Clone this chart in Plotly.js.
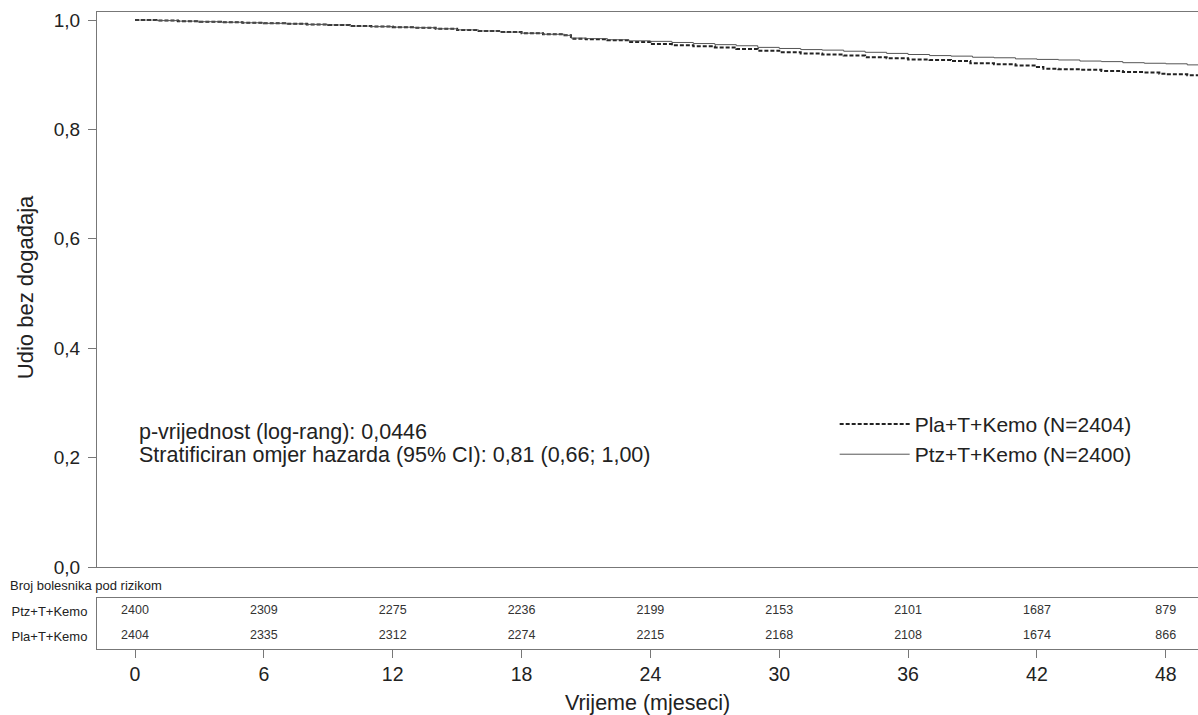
<!DOCTYPE html>
<html>
<head>
<meta charset="utf-8">
<script src="https://cdn.plot.ly/plotly-3.0.1.min.js"></script>
<style>html,body{margin:0;padding:0;background:#fff;}#chart{width:1198px;height:715px;}</style>
</head>
<body>
<div id="chart"></div>
<script>
// Kaplan-Meier estimates
var ptzTime = [0,1,2,3,4,5,6,7,8,9,10,11,12,13,14,15,16,17,18,19,20,20.3,21,22,23,24,25,26,27,28,29,30,31,32,33,34,35,36,37,38,39,40,41,42,43,44,45,46,47,48,49,49.5];
var ptzSurv = [1.000,0.999,0.998,0.997,0.996,0.995,0.994,0.993,0.992,0.991,0.989,0.988,0.987,0.986,0.984,0.982,0.980,0.978,0.976,0.974,0.972,0.967,0.966,0.964,0.962,0.961,0.959,0.957,0.955,0.953,0.950,0.948,0.946,0.945,0.943,0.941,0.939,0.937,0.935,0.934,0.932,0.931,0.929,0.928,0.927,0.925,0.924,0.922,0.921,0.920,0.918,0.918];
var plaTime = [0,1,2,3,4,5,6,7,8,9,10,11,12,13,14,15,16,17,18,19,20,20.3,21,22,23,24,25,26,27,28,29,30,31,32,33,34,35,36,37,38,38.9,40,41,42,42.3,43,44,45,46,47,47.7,48,49,49.5];
var plaSurv = [1.000,0.999,0.998,0.997,0.996,0.995,0.994,0.993,0.992,0.991,0.989,0.988,0.987,0.986,0.984,0.982,0.980,0.978,0.976,0.974,0.972,0.966,0.965,0.963,0.960,0.956,0.954,0.952,0.950,0.947,0.944,0.941,0.939,0.937,0.935,0.932,0.930,0.928,0.927,0.925,0.921,0.919,0.917,0.914,0.911,0.910,0.909,0.907,0.905,0.904,0.902,0.901,0.899,0.899];

// Number at risk table
var riskTimes = [0,6,12,18,24,30,36,42,48];
var riskPtz = [2400,2309,2275,2236,2199,2153,2101,1687,879];
var riskPla = [2404,2335,2312,2274,2215,2168,2108,1674,866];
var groupLabels = ['Ptz+T+Kemo','Pla+T+Kemo'];
var legendPla = 'Pla+T+Kemo (N=2404)';
var legendPtz = 'Ptz+T+Kemo (N=2400)';
var yTicks = [0,0.2,0.4,0.6,0.8,1.0];

var FONT = 'Liberation Sans, Arial, sans-serif';

var traces = [
  {x: plaTime, y: plaSurv, type:'scatter', mode:'lines', line:{shape:'hv', color:'#222', width:2, dash:'4px,2px'}, name: legendPla, xaxis:'x', yaxis:'y'},
  {x: ptzTime, y: ptzSurv, type:'scatter', mode:'lines', line:{shape:'hv', color:'#555', width:1}, name: legendPtz, xaxis:'x', yaxis:'y'},
  {x: riskTimes, y: riskTimes.map(function(){return 0.74;}), text: riskPtz.map(String), type:'scatter', mode:'text', textfont:{size:12.5, color:'#333', family:FONT}, showlegend:false, hoverinfo:'skip', xaxis:'x2', yaxis:'y2'},
  {x: riskTimes, y: riskTimes.map(function(){return 0.25;}), text: riskPla.map(String), type:'scatter', mode:'text', textfont:{size:12.5, color:'#333', family:FONT}, showlegend:false, hoverinfo:'skip', xaxis:'x2', yaxis:'y2'}
];

var layout = {
  width:1198, height:715,
  margin:{l:97, r:0, t:12, b:66},
  paper_bgcolor:'#fff', plot_bgcolor:'#fff',
  separators:',.',
  font:{family:FONT, color:'#222'},
  showlegend:true,
  legend:{x:0.67, y:0.385, xanchor:'left', yanchor:'top', font:{size:21, color:'#222', family:FONT}, itemwidth:70, bgcolor:'rgba(0,0,0,0)', tracegroupgap:0},
  xaxis:{domain:[0,1], anchor:'y', range:[-1.77,49.5], showticklabels:false, ticks:'', showgrid:false, zeroline:false, showline:true, linecolor:'#777', linewidth:1, mirror:true},
  yaxis:{domain:[0.1287,1], anchor:'x', range:[0,1.0147], tickvals:yTicks, tickformat:'.1f', ticks:'outside', ticklen:8, tickcolor:'#777', ticklabelstandoff:4, tickfont:{size:19, color:'#222'}, showgrid:false, zeroline:false, showline:true, linecolor:'#777', linewidth:1},
  xaxis2:{domain:[0,1], anchor:'y2', matches:'x', range:[-1.77,49.5], tickvals:riskTimes, ticks:'outside', ticklen:8, tickcolor:'#777', tickfont:{size:19.5, color:'#222'}, showgrid:false, zeroline:false, showline:true, linecolor:'#777', linewidth:1, mirror:true,
          title:{text:'Vrijeme (mjeseci)', font:{size:21.5, color:'#222'}, standoff:12}},
  yaxis2:{domain:[0,0.0801], anchor:'x2', range:[0,1], tickvals:[0.74,0.25], ticktext:groupLabels, ticks:'', ticklabelstandoff:6, tickfont:{size:13, color:'#222'}, showgrid:false, zeroline:false, showline:true, linecolor:'#777', linewidth:1, fixedrange:true},
  annotations:[
    {xref:'paper', yref:'paper', x:-0.0654, y:0.568, text:'Udio bez događaja', textangle:-90, showarrow:false, font:{size:22, color:'#222'}, xanchor:'center', yanchor:'middle'},
    {xref:'paper', yref:'paper', x:-0.0808, y:0.1, text:'Broj bolesnika pod rizikom', showarrow:false, font:{size:13, color:'#222'}, xanchor:'left', yanchor:'middle'},
    {xref:'x', yref:'y', x:0.1, y:0.2477, text:'p-vrijednost (log-rang): 0,0446', showarrow:false, font:{size:21.5, color:'#222'}, xanchor:'left', yanchor:'middle'},
    {xref:'x', yref:'y', x:0.1, y:0.2055, text:'Stratificiran omjer hazarda (95% CI): 0,81 (0,66; 1,00)', showarrow:false, font:{size:21.5, color:'#222'}, xanchor:'left', yanchor:'middle'}
  ]
};

Plotly.newPlot('chart', traces, layout, {displayModeBar:false, staticPlot:true});
</script>
</body>
</html>
